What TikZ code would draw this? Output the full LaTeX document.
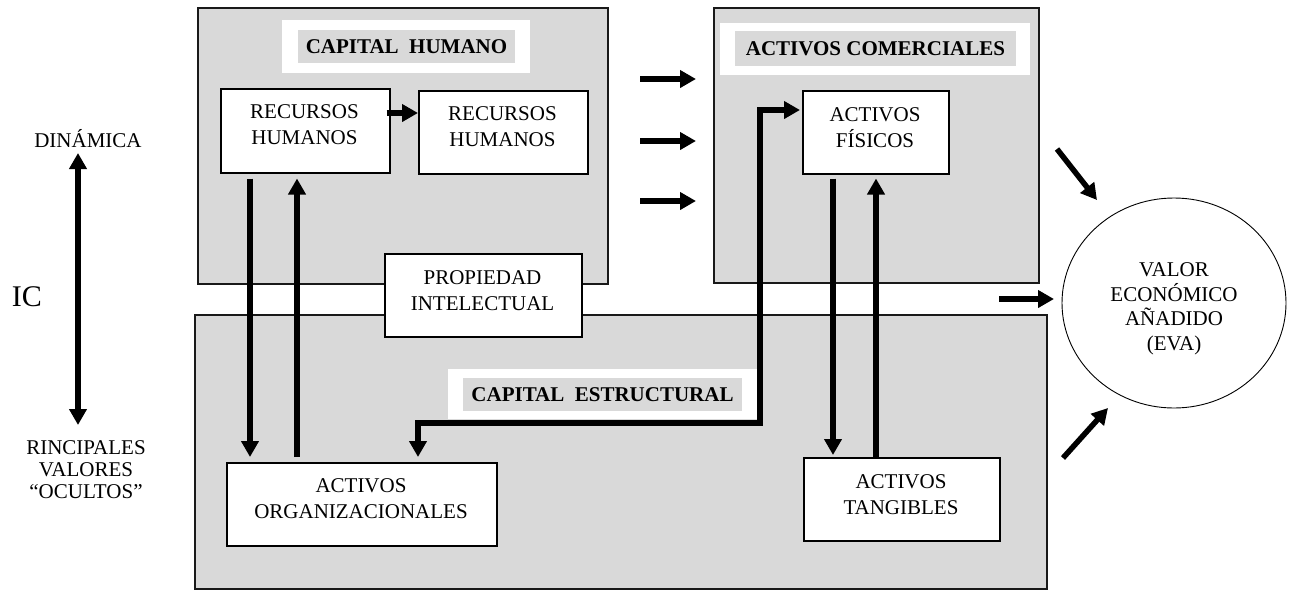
\documentclass[tikz,border=0pt]{standalone}
\usepackage{fontspec}
\setmainfont{Liberation Serif}
\usetikzlibrary{arrows.meta,calc,shapes.geometric}
\definecolor{panel}{HTML}{D9D9D9}
\begin{document}
\begin{tikzpicture}[x=1pt,y=-1pt,
  panelbox/.style={draw=black!90, line width=1.5pt, fill=panel, anchor=north west, inner sep=0pt},
  band/.style={fill=white, anchor=north west, inner sep=0pt},
  bandtitle/.style={fill=panel, inner sep=0pt, font=\bfseries\fontsize{21}{26}\selectfont},
  whitebox/.style={draw=black, line width=1.5pt, fill=white, anchor=north west, inner sep=0pt},
  txt/.style={align=center, inner sep=0pt, font=\fontsize{21}{26}\selectfont},
  arrowtip/.tip={Triangle[width=17pt,length=16pt]},
  arr/.style={line width=5.5pt, -arrowtip},
  dblarr/.style={line width=5.5pt, arrowtip-arrowtip},
]
\useasboundingbox (0,0) rectangle (1291,590);

% the three large panels
\node[panelbox, minimum width=410pt, minimum height=276pt] (ch) at (197,7) {};
\node[panelbox, minimum width=325pt, minimum height=275pt] (ac) at (713,7) {};
\node[panelbox, minimum width=852pt, minimum height=274pt] (ce) at (194,314) {};

% panel titles
\node[band, minimum width=248pt, minimum height=53pt] (chband) at (282,20) {};
\node[bandtitle, minimum width=217pt, minimum height=33pt] (chtitle) at (406.5,46.5) {CAPITAL\ \ HUMANO};
\node[band, minimum width=310pt, minimum height=52pt] (acband) at (720,23) {};
\node[bandtitle, minimum width=281pt, minimum height=35pt] (actitle) at (875.5,48.5) {ACTIVOS COMERCIALES};
\node[band, minimum width=310pt, minimum height=50pt] (ceband) at (448,369) {};
\node[bandtitle, minimum width=279pt, minimum height=33pt] (cetitle) at (602.5,394.5) {CAPITAL\ \ ESTRUCTURAL};

% white boxes
\node[whitebox, minimum width=169pt, minimum height=84pt] (rh1) at (220,88) {};
\node[txt] (rh1t) at (304.5,125) {RECURSOS\\HUMANOS};
\node[whitebox, minimum width=169pt, minimum height=83pt] (rh2) at (418,90) {};
\node[txt] (rh2t) at (502.5,127) {RECURSOS\\HUMANOS};
\node[whitebox, minimum width=197pt, minimum height=83pt] (pi) at (384,253) {};
\node[txt] (pit) at (482.5,290.5) {PROPIEDAD\\INTELECTUAL};
\node[whitebox, minimum width=146pt, minimum height=83pt] (af) at (802,90) {};
\node[txt] (aft) at (875,128) {ACTIVOS\\FÍSICOS};
\node[whitebox, minimum width=270pt, minimum height=83pt] (ao) at (226,462) {};
\node[txt] (aot) at (361,498.5) {ACTIVOS\\ORGANIZACIONALES};
\node[whitebox, minimum width=196pt, minimum height=83pt] (at) at (803,457) {};
\node[txt] (att) at (901,494.5) {ACTIVOS\\TANGIBLES};

% economic value added
\node[draw, ellipse, line width=0.9pt, minimum width=224pt, minimum height=210pt, inner sep=0pt] (eva) at (1174,303) {};
\node[txt, font=\fontsize{21}{24.5}\selectfont] (evat) at (1174,309) {VALOR\\ECONÓMICO\\AÑADIDO\\(EVA)};

% left axis
\node[txt] (din) at (88,139) {DINÁMICA};
\node[txt, font=\fontsize{30}{34}\selectfont] (ic) at (27,297) {IC};
\node[txt, font=\fontsize{21}{22}\selectfont] (ocultos) at (86,470) {RINCIPALES\\VALORES\\“OCULTOS”};
\coordinate (axtop) at (78,153);
\coordinate (axbot) at (78,425);
\draw[dblarr] (axtop) -- (axbot);

% flows inside the panels
\draw[arr] ([yshift=-25pt,xshift=-4pt]rh1.north east) -- ([yshift=-23pt]rh2.north west);
\draw[arr, shorten >=5pt] ([xshift=30pt,yshift=-5pt]rh1.south west) -- ([xshift=30pt]rh1.south west |- ao.north);
\draw[arr, shorten >=5pt] ([xshift=71pt,yshift=5pt]ao.north west) -- ([xshift=71pt]ao.north west |- rh1.south);
\draw[arr, shorten >=2pt] ([xshift=31pt,yshift=-4pt]af.south west) -- ([xshift=31pt]af.south west |- at.north);
\draw[arr, shorten >=4pt] ([xshift=73pt]at.north west) -- ([xshift=73pt]at.north west |- af.south);
\coordinate (bend) at (760,423);
\draw[dblarr, shorten >=2pt] ([xshift=192pt,yshift=5pt]ao.north west) |- (bend) |- ([yshift=-20pt]af.north west);

% flows between panels
\coordinate (m1s) at (640,79);  \coordinate (m1e) at (696,79);
\coordinate (m2s) at (640,141); \coordinate (m2e) at (696,141);
\coordinate (m3s) at (640,201); \coordinate (m3e) at (696,201);
\draw[arr] (m1s) -- (m1e);
\draw[arr] (m2s) -- (m2e);
\draw[arr] (m3s) -- (m3e);

% flows into the economic value added
\coordinate (e1s) at (1057,149); \coordinate (e1e) at (1097,200);
\coordinate (e2s) at (999,299);  \coordinate (e2e) at (1054,299);
\coordinate (e3s) at (1063,458); \coordinate (e3e) at (1108,408);
\draw[arr] (e1s) -- (e1e);
\draw[arr] (e2s) -- (e2e);
\draw[arr] (e3s) -- (e3e);
\end{tikzpicture}
\end{document}
